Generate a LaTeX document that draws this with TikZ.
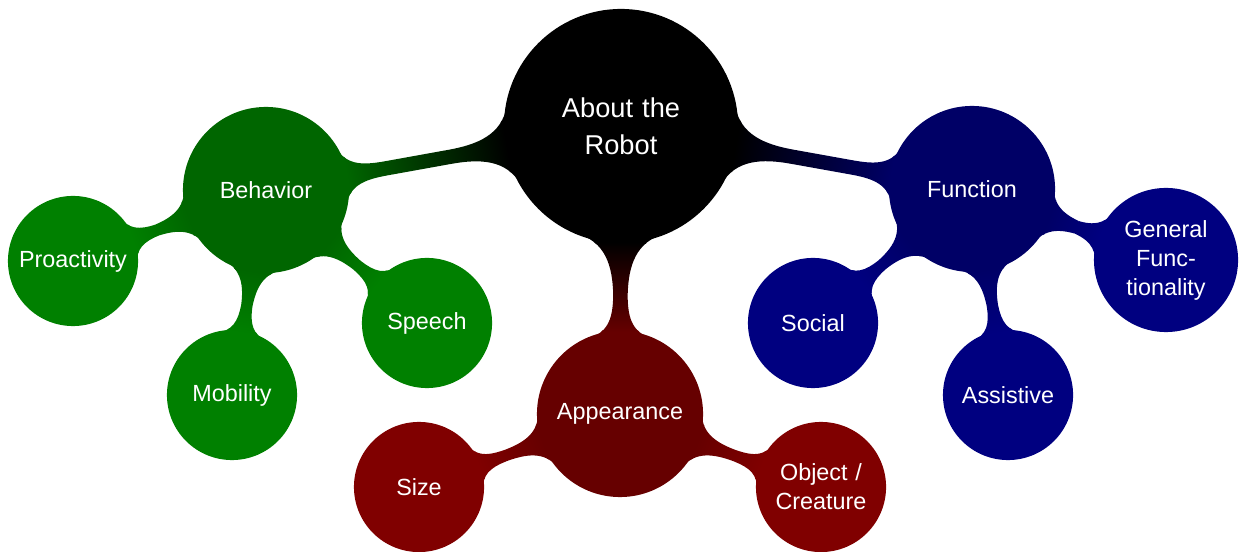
\documentclass[tikz,border=0pt]{standalone}
\usepackage{fontspec}
\setmainfont{Liberation Sans}
\usetikzlibrary{mindmap}
\colorlet{behavc}{green!40!black}
\colorlet{leafg}{green!50!black}
\colorlet{funcc}{blue!40!black}
\colorlet{leafb}{blue!50!black}
\colorlet{appc}{red!40!black}
\colorlet{leafr}{red!50!black}
\begin{document}
\begin{tikzpicture}[mindmap,
                    every node/.style={concept, text=white, align=center, inner sep=0pt},
                    big/.style={minimum size=4.64cm, text width=3.6cm, font=\fontsize{15.5}{21}\selectfont},
                    mid/.style={minimum size=3.28cm, text width=2.6cm, font=\fontsize{13.3}{16.5}\selectfont},
                    small/.style={minimum size=2.56cm, text width=2.3cm, font=\fontsize{13.3}{16.5}\selectfont}]
\useasboundingbox (0,0) rectangle (24.78,-11.04);
\node[big, concept color=black] (R) at (12.42,-2.52) {About the\\Robot};
\node[mid, concept color=behavc] (B) at (5.32,-3.80) {Behavior};
\node[mid, concept color=funcc] (F) at (19.44,-3.78) {Function};
\node[mid, concept color=appc] (A) at (12.40,-8.28) {Appearance};

\node[small, concept color=leafg] (B1) at (1.46,-5.22) {Proactivity};
\node[small, concept color=leafg] (B2) at (4.64,-7.90) {Mobility};
\node[small, concept color=leafg] (B3) at (8.54,-6.46) {Speech};
\node[small, concept color=leafb, minimum size=2.84cm] (F1) at (23.32,-5.20) {General\\Func-\\tionality};
\node[small, concept color=leafb] (F2) at (16.26,-6.46) {Social};
\node[small, concept color=leafb] (F3) at (20.16,-7.90) {Assistive};
\node[small, concept color=leafr] (A1) at (8.38,-9.74) {Size};
\node[small, concept color=leafr] (A2) at (16.42,-9.74) {Object /\\Creature};

\path (R) to[circle connection bar switch color=from (black) to (behavc)] (B);
\path (R) to[circle connection bar switch color=from (black) to (funcc)] (F);
\path (R) to[circle connection bar switch color=from (black) to (appc)] (A);
\path (B) to[circle connection bar switch color=from (behavc) to (leafg)] (B1);
\path (B) to[circle connection bar switch color=from (behavc) to (leafg)] (B2);
\path (B) to[circle connection bar switch color=from (behavc) to (leafg)] (B3);
\path (F) to[circle connection bar switch color=from (funcc) to (leafb)] (F1);
\path (F) to[circle connection bar switch color=from (funcc) to (leafb)] (F2);
\path (F) to[circle connection bar switch color=from (funcc) to (leafb)] (F3);
\path (A) to[circle connection bar switch color=from (appc) to (leafr)] (A1);
\path (A) to[circle connection bar switch color=from (appc) to (leafr)] (A2);

\end{tikzpicture}
\end{document}
